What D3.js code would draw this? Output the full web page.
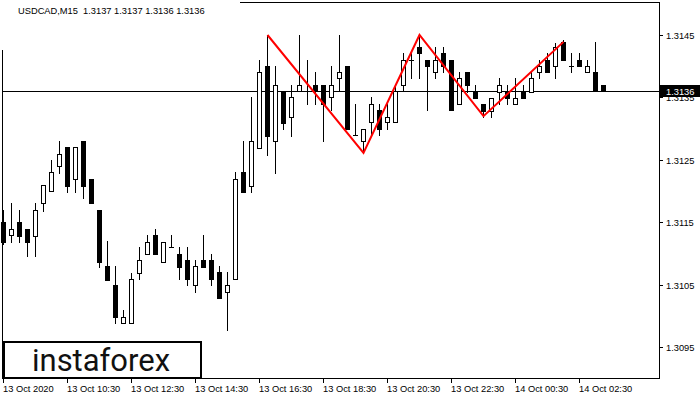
<!DOCTYPE html>
<html><head><meta charset="utf-8">
<script src="https://cdn.jsdelivr.net/npm/d3@7"></script>
<style>html,body{margin:0;padding:0;background:#fff;}svg{display:block;}</style>
</head><body>
<svg id="chart" width="700" height="400"></svg>
<script>
const symbolTitle = "USDCAD,M15  1.3137 1.3137 1.3136 1.3136";
const opens  = [1.31150,1.31129,1.31150,1.31139,1.31128,1.31181,1.31200,1.31240,1.31271,1.31219,1.31280,1.31219,1.31170,1.31080,1.31049,1.30988,1.30988,1.31069,1.31099,1.31129,1.31087,1.31110,1.31099,1.31089,1.31049,1.31089,1.31089,1.31070,1.31038,1.31059,1.31230,1.31208,1.31269,1.31400,1.31280,1.31360,1.31319,1.31360,1.31360,1.31370,1.31370,1.31351,1.31381,1.31400,1.31290,1.31280,1.31311,1.31330,1.31311,1.31311,1.31370,1.31410,1.31431,1.31410,1.31391,1.31421,1.31410,1.31339,1.31391,1.31359,1.31339,1.31328,1.31359,1.31359,1.31339,1.31359,1.31359,1.31391,1.31410,1.31400,1.31439,1.31400,1.31410,1.31391,1.31391,1.31370];
const highs  = [1.31170,1.31181,1.31170,1.31139,1.31181,1.31210,1.31250,1.31280,1.31271,1.31271,1.31280,1.31219,1.31170,1.31120,1.31080,1.31009,1.31069,1.31110,1.31129,1.31139,1.31118,1.31129,1.31110,1.31110,1.31089,1.31129,1.31099,1.31080,1.31070,1.31231,1.31280,1.31351,1.31410,1.31450,1.31400,1.31360,1.31370,1.31450,1.31410,1.31391,1.31370,1.31400,1.31450,1.31400,1.31339,1.31299,1.31351,1.31339,1.31339,1.31370,1.31421,1.31421,1.31450,1.31410,1.31431,1.31431,1.31410,1.31391,1.31391,1.31370,1.31339,1.31349,1.31381,1.31370,1.31381,1.31370,1.31391,1.31410,1.31421,1.31437,1.31442,1.31421,1.31421,1.31410,1.31439,1.31370];
const lows   = [1.31115,1.31118,1.31118,1.31096,1.31096,1.31168,1.31200,1.31229,1.31198,1.31198,1.31189,1.31181,1.31078,1.31057,1.30988,1.30988,1.30988,1.31059,1.31099,1.31099,1.31087,1.31110,1.31059,1.31049,1.31038,1.31078,1.31049,1.31029,1.30977,1.31059,1.31198,1.31198,1.31269,1.31258,1.31229,1.31299,1.31288,1.31360,1.31339,1.31339,1.31280,1.31330,1.31360,1.31299,1.31290,1.31261,1.31290,1.31290,1.31299,1.31311,1.31360,1.31381,1.31381,1.31330,1.31381,1.31391,1.31330,1.31339,1.31359,1.31349,1.31319,1.31319,1.31339,1.31339,1.31339,1.31349,1.31359,1.31381,1.31391,1.31381,1.31410,1.31391,1.31400,1.31391,1.31360,1.31360];
const closes = [1.31118,1.31139,1.31128,1.31118,1.31170,1.31210,1.31230,1.31259,1.31208,1.31271,1.31208,1.31181,1.31087,1.31057,1.30998,1.30998,1.31059,1.31089,1.31118,1.31099,1.31118,1.31110,1.31078,1.31059,1.31080,1.31078,1.31059,1.31029,1.31049,1.31219,1.31198,1.31280,1.31391,1.31288,1.31370,1.31309,1.31351,1.31370,1.31360,1.31360,1.31339,1.31370,1.31391,1.31299,1.31290,1.31299,1.31339,1.31299,1.31319,1.31360,1.31410,1.31410,1.31421,1.31400,1.31410,1.31400,1.31330,1.31381,1.31370,1.31349,1.31328,1.31349,1.31370,1.31349,1.31349,1.31349,1.31381,1.31400,1.31391,1.31431,1.31410,1.31400,1.31400,1.31400,1.31360,1.31360];
const timeLabels = ["13 Oct 2020","13 Oct 10:30","13 Oct 12:30","13 Oct 14:30","13 Oct 16:30","13 Oct 18:30","13 Oct 20:30","13 Oct 22:30","14 Oct 00:30","14 Oct 02:30"];
const timeLabelIdx = [0,8,16,24,32,40,48,56,64,72];
const priceTicks = [1.3095,1.3105,1.3115,1.3125,1.3135,1.3145];
const currentPrice = 1.3136;
const patternIdx = [33,45,52,60,70];
const patternPrice = [1.31450,1.31261,1.31450,1.31320,1.31439];
const brand = "instaforex";

const svg = d3.select("#chart");
const font = "'Liberation Sans', Arial, sans-serif";
const x = d3.scaleLinear().domain([0,75]).range([3,603]);
const y = d3.scaleLinear().domain([1.3095,1.3145]).range([347,35]);
const px = i => Math.round(x(i));
const py = v => Math.round(y(v));

svg.append("rect").attr("width",700).attr("height",400).attr("fill","#fff");

// frame
svg.append("rect").attr("x",2.5).attr("y",2.5).attr("width",657).attr("height",376)
  .attr("fill","none").attr("stroke","#000").attr("stroke-width",1).attr("shape-rendering","crispEdges");
svg.append("rect").attr("x",0).attr("y",0).attr("width",240).attr("height",50).attr("fill","#fff");

// current price line
svg.append("line").attr("x1",3).attr("x2",659).attr("y1",py(currentPrice)+0.5).attr("y2",py(currentPrice)+0.5)
  .attr("stroke","#000").attr("stroke-width",1).attr("shape-rendering","crispEdges");

// candles
const data = opens.map((o,i)=>({i,o,h:highs[i],l:lows[i],c:closes[i]}));
const g = svg.append("g").attr("shape-rendering","crispEdges");
const cg = g.selectAll("g.c").data(data).join("g");
cg.append("line")
  .attr("x1",d=>px(d.i)+0.5).attr("x2",d=>px(d.i)+0.5)
  .attr("y1",d=>py(d.h)).attr("y2",d=>py(d.l)+1)
  .attr("stroke","#000").attr("stroke-width",1);
cg.each(function(d){
  const sel = d3.select(this);
  const top = py(Math.max(d.o,d.c)), bot = py(Math.min(d.o,d.c));
  if (bot - top < 1) {
    sel.append("line").attr("x1",px(d.i)-2).attr("x2",px(d.i)+3)
      .attr("y1",top+0.5).attr("y2",top+0.5).attr("stroke","#000").attr("stroke-width",1);
  } else {
    sel.append("rect").attr("x",px(d.i)-1.5).attr("y",top+0.5)
      .attr("width",4).attr("height",bot-top)
      .attr("fill", d.c < d.o ? "#000" : "#fff").attr("stroke","#000").attr("stroke-width",1);
  }
});

// pattern zigzag
const zz = patternIdx.map((k,j)=>[x(k)+0.5, y(patternPrice[j])]);
svg.append("path").attr("d", d3.line()(zz)).attr("fill","none")
  .attr("stroke","#ff0000").attr("stroke-width",2);

// y axis
const ya = svg.append("g");
priceTicks.forEach(t=>{
  ya.append("line").attr("x1",659).attr("x2",663).attr("y1",py(t)+0.5).attr("y2",py(t)+0.5)
    .attr("stroke","#000").attr("shape-rendering","crispEdges");
  ya.append("text").attr("x",666).attr("y",py(t)+4).attr("font-family",font).attr("font-size","9.3px")
    .attr("fill","#000").text(d3.format(".4f")(t));
});
// current price label
svg.append("rect").attr("x",660).attr("y",py(currentPrice)-6).attr("width",40).attr("height",12).attr("fill","#000");
svg.append("text").attr("x",666).attr("y",py(currentPrice)+4).attr("font-family",font).attr("font-size","9.3px")
  .attr("fill","#fff").text(d3.format(".4f")(currentPrice));

// x axis
const xa = svg.append("g");
timeLabelIdx.forEach((k,j)=>{
  xa.append("line").attr("x1",px(k)+0.5).attr("x2",px(k)+0.5).attr("y1",379).attr("y2",383)
    .attr("stroke","#000").attr("shape-rendering","crispEdges");
  xa.append("text").attr("x",px(k)).attr("y",392).attr("font-family",font).attr("font-size","9.3px")
    .attr("fill","#000").text(timeLabels[j]);
});

// title
svg.append("text").attr("x",18).attr("y",14).attr("font-family",font).attr("font-size","9.3px")
  .attr("fill","#000").attr("xml:space","preserve").style("white-space","pre").text(symbolTitle);

// logo box
svg.append("rect").attr("x",4).attr("y",342).attr("width",197).attr("height",36)
  .attr("fill","#fff").attr("stroke","#000").attr("stroke-width",2).attr("shape-rendering","crispEdges");
svg.append("text").attr("x",32).attr("y",371).attr("font-family","Roboto, 'DejaVu Sans', sans-serif")
  .attr("font-size","31px").attr("font-weight",400).attr("fill","#111")
  .attr("textLength",138).attr("lengthAdjust","spacingAndGlyphs").text(brand);
</script>
</body></html>
